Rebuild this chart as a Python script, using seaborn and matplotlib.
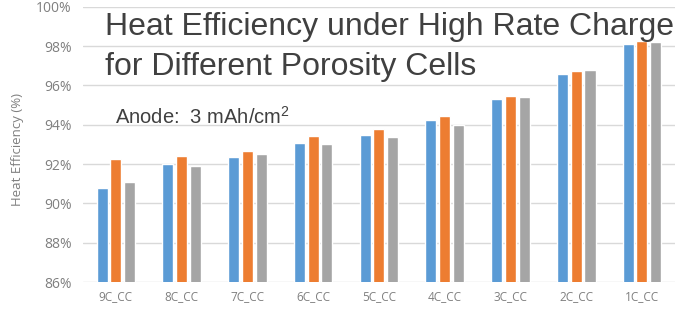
import matplotlib
matplotlib.use("Agg")
import matplotlib.pyplot as plt
import seaborn as sns
import pandas as pd
from matplotlib.ticker import FuncFormatter

# rates (x categories) and heat efficiency (%) for three porosity cells
rates = ["9C_CC", "8C_CC", "7C_CC", "6C_CC", "5C_CC", "4C_CC", "3C_CC", "2C_CC", "1C_CC"]
cell_a = [90.80, 91.98, 92.36, 93.07, 93.46, 94.25, 95.32, 96.58, 98.12]
cell_b = [92.26, 92.43, 92.68, 93.41, 93.80, 94.45, 95.44, 96.73, 98.24]
cell_c = [91.07, 91.92, 92.50, 93.04, 93.40, 93.98, 95.42, 96.78, 98.21]
cells = ["Cell A", "Cell B", "Cell C"]
colors = ["#5B9BD5", "#ED7D31", "#A5A5A5"]

df = pd.DataFrame({"rate": rates * 3,
                   "eff": cell_a + cell_b + cell_c,
                   "cell": [c for c in cells for _ in rates]})

sns.set_style("white")
plt.rcParams['font.family'] = ['Liberation Sans', 'DejaVu Sans']

fig = plt.figure(figsize=(6.83, 3.13), dpi=100)
ax = fig.add_axes([0.1215, 0.099, 0.8665, 0.879])

sns.barplot(data=df, x="rate", y="eff", hue="cell", palette=colors,
            width=0.63, gap=0.2, ax=ax, legend=False, saturation=1)

ax.set_ylim(86, 100)
ax.set_yticks(range(86, 101, 2))
ax.yaxis.set_major_formatter(FuncFormatter(lambda v, p: f"{v:.0f}%"))
ax.grid(axis="y", color="#D9D9D9", linewidth=1)
ax.set_axisbelow(True)
for s in ax.spines.values():
    s.set_visible(False)
ax.tick_params(axis="y", labelsize=10, colors="#7F7F7F", length=0, pad=8)
ax.tick_params(axis="x", labelsize=8.5, colors="#7F7F7F", length=0, pad=6)
for t in ax.get_xticklabels() + ax.get_yticklabels():
    t.set_fontfamily(['Open Sans', 'DejaVu Sans'])
ax.set_xlabel("")
ax.set_ylabel("Heat Efficiency (%)", fontsize=9.5, color="#7F7F7F",
              fontfamily=['Open Sans', 'DejaVu Sans'])
ax.yaxis.set_label_coords(-0.1, 0.48)

fig.text(105 / 683, 1 - 35 / 313, "Heat Efficiency under High Rate Charge",
         fontsize=23, color="#404040")
fig.text(105 / 683, 1 - 75 / 313, "for Different Porosity Cells",
         fontsize=23, color="#404040")
fig.text(115 / 683, 1 - 124 / 313, r"Anode:  3 mAh/cm$\mathregular{^2}$",
         fontsize=14.5, color="#404040")

fig.savefig("out.png", dpi=100)
